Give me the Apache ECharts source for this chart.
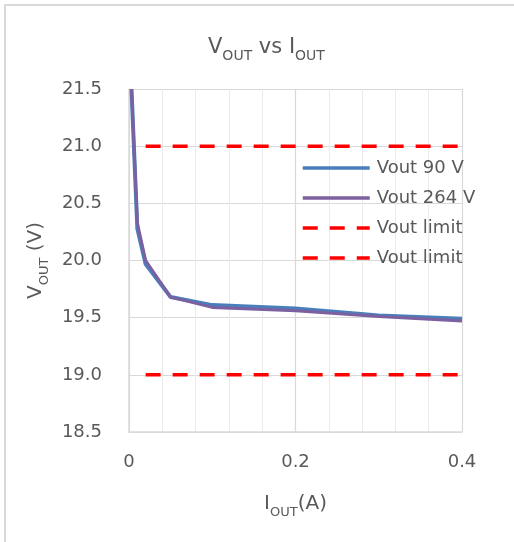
<!DOCTYPE html>
<html><head><meta charset="utf-8">
<script src="https://cdn.jsdelivr.net/npm/echarts@6/dist/echarts.min.js"></script>
<style>html,body{margin:0;padding:0;background:#fff}#c{width:514px;height:542px}</style>
</head><body><div id="c"></div>
<script>
var iout = [0.003, 0.01, 0.02, 0.05, 0.1, 0.2, 0.3, 0.4];
var vout90 = [21.5, 20.28, 19.97, 19.68, 19.61, 19.58, 19.52, 19.49];
var vout264 = [21.5, 20.33, 20.0, 19.68, 19.59, 19.56, 19.51, 19.47];
var limitX = [0.02, 0.4];
var limitHigh = [21, 21];
var limitLow = [19, 19];
var seriesNames = ['Vout 90 V', 'Vout 264 V', 'Vout limit', 'Vout limit '];
var xTicks = [0, 0.2, 0.4];
var yTicks = [18.5, 19.0, 19.5, 20.0, 20.5, 21.0, 21.5];

function pairs(xs, ys){ return xs.map(function(x,i){ return [x, ys[i]]; }); }
var FONT = 'DejaVu Sans';
var TXT = '#595959';
function richSet(big, small){
  return {
    m: {fontFamily: FONT, fontSize: big, fontWeight: 'normal', color: TXT, lineHeight: big + 4, verticalAlign: 'middle'},
    s: {fontFamily: FONT, fontSize: small, fontWeight: 'normal', color: TXT, lineHeight: small, verticalAlign: 'bottom', padding: [0,0,-3,0]}
  };
}
var chart = echarts.init(document.getElementById('c'), null, {renderer:'canvas'});
chart.setOption({
  backgroundColor: '#fff',
  animation: false,
  textStyle: {fontFamily: FONT},
  title: {
    text: '{m|V}{s|OUT}{m| vs I}{s|OUT}',
    left: 203, top: 30,
    textStyle: {fontWeight: 'normal', rich: richSet(21, 14)}
  },
  graphic: [{type:'rect', shape:{x:5, y:5, width:530, height:560}, style:{fill:'none', stroke:'#d9d9d9', lineWidth:2}, silent:true, z:-10}],
  grid: {left: 129, right: 52, top: 89, bottom: 110},
  legend: {
    orient: 'vertical', left: 296, top: 153,
    itemWidth: 67, itemHeight: 12, itemGap: 10,
    data: seriesNames,
    itemStyle: {color: 'rgba(0,0,0,0)', borderWidth: 0},
    lineStyle: {width: 3.5},
    textStyle: {fontFamily: FONT, fontSize: 18, color: TXT, lineHeight: 20, padding:[0,0,0,2]},
    formatter: function(n){ return n.trim(); }
  },
  xAxis: {
    type: 'value', min: 0, max: 0.4, interval: 0.2,
    name: '{m|I}{s|OUT}{m|(A)}', nameLocation: 'middle', nameGap: 60,
    nameTextStyle: {rich: richSet(20, 13)},
    axisLine: {show: true, lineStyle: {color: '#d9d9d9', width: 1.5}},
    axisTick: {show: false},
    axisLabel: {fontFamily: FONT, fontSize: 18, color: TXT, margin: 21,
      formatter: function(v){ return xTicks.indexOf(Math.round(v*10)/10) >= 0 ? String(Math.round(v*10)/10) : ''; }},
    splitLine: {show: true, lineStyle: {color: '#d9d9d9', width: 1.2}},
    minorTick: {show: false, splitNumber: 5},
    minorSplitLine: {show: true, lineStyle: {color: '#ebebeb', width: 1}}
  },
  yAxis: {
    type: 'value', min: 18.5, max: 21.5, interval: 0.5,
    name: '{m|V}{s|OUT}{m| (V)}', nameLocation: 'middle', nameGap: 73, nameRotate: 90,
    nameTextStyle: {rich: richSet(20, 13)},
    axisLine: {show: true, lineStyle: {color: '#d9d9d9', width: 1.5}},
    axisTick: {show: false},
    axisLabel: {fontFamily: FONT, fontSize: 18, color: TXT, margin: 27,
      formatter: function(v){ return v.toFixed(1); }},
    splitLine: {show: true, lineStyle: {color: '#d9d9d9', width: 1.2}}
  },
  series: [
    {name: seriesNames[0], type: 'line', data: pairs(iout, vout90), symbol: 'none', clip: true,
     lineStyle: {color: '#4a7ebb', width: 4}, itemStyle: {color: '#4a7ebb'}, z: 3},
    {name: seriesNames[1], type: 'line', data: pairs(iout, vout264), symbol: 'none', clip: true,
     lineStyle: {color: '#7d60a0', width: 3}, itemStyle: {color: '#7d60a0'}, z: 4},
    {name: seriesNames[2], type: 'line', data: pairs(limitX, limitHigh), symbol: 'none',
     lineStyle: {color: '#ff0000', width: 3.5, type: [15, 12]}, itemStyle: {color: '#ff0000'}, z: 2},
    {name: seriesNames[3], type: 'line', data: pairs(limitX, limitLow), symbol: 'none',
     lineStyle: {color: '#ff0000', width: 3.5, type: [15, 12]}, itemStyle: {color: '#ff0000'}, z: 2}
  ]
});
</script></body></html>
